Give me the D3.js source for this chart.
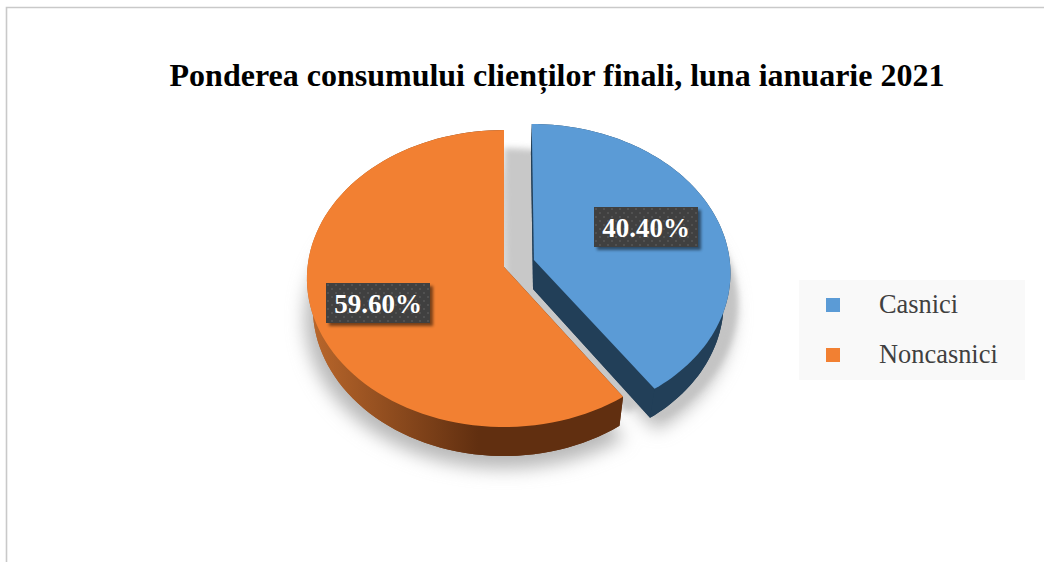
<!DOCTYPE html>
<html><head><meta charset="utf-8">
<style>html,body{margin:0;padding:0;background:#fff;overflow:hidden}svg{display:block}</style>
<script src="https://cdn.jsdelivr.net/npm/d3@7/dist/d3.min.js"></script>
</head><body><svg id="c" width="1044" height="562"></svg>
<script>
const titleText = "Ponderea consumului clienților finali, luna ianuarie 2021";
const categories = ["Casnici", "Noncasnici"];
const shares = [40.40, 59.60];
const topColors = ["#5b9bd6", "#f28032"];

const FONT = '"Liberation Serif","Times New Roman",serif';
const cx = 504, cy = 267, R = 196.5, S = 147.6, K = 0.0775, EXPL = 0.16;
const DEPTH = 29, SIDE_SCALE = 0.97;

const svg = d3.select("#c");
const defs = svg.append("defs");
const blur = (id, d) => defs.append("filter").attr("id", id)
  .attr("x", "-20%").attr("y", "-20%").attr("width", "140%").attr("height", "140%")
  .append("feGaussianBlur").attr("stdDeviation", d);
blur("softShadow", 9);
blur("gapShadow", 3);
blur("labelShadow", 1.6);

const sideGrad = defs.append("linearGradient").attr("id", "orangeSide")
  .attr("gradientUnits", "userSpaceOnUse").attr("x1", 313).attr("x2", 478).attr("y1", 0).attr("y2", 0);
sideGrad.append("stop").attr("offset", 0).attr("stop-color", "#b8662b");
sideGrad.append("stop").attr("offset", 1).attr("stop-color", "#612f10");

const dots = defs.append("pattern").attr("id", "dots").attr("patternUnits", "userSpaceOnUse")
  .attr("width", 8).attr("height", 8);
dots.append("rect").attr("width", 8).attr("height", 8).attr("fill", "#404040");
dots.append("circle").attr("cx", 2).attr("cy", 2).attr("r", 1).attr("fill", "#565656");
dots.append("circle").attr("cx", 6).attr("cy", 6).attr("r", 1).attr("fill", "#565656");

// frame: only top and left edges are in the picture
svg.append("path").attr("d", "M1044,7.5H6.5V562").attr("fill", "none")
  .attr("stroke", "#c9c9c9").attr("stroke-width", 1.6);

svg.append("text").attr("x", 557).attr("y", 86).attr("text-anchor", "middle")
  .attr("font-family", FONT).attr("font-weight", "bold").attr("font-size", 32)
  .attr("fill", "#000").text(titleText);

const arcs = d3.pie().sort(null)(shares);

// disc coordinates -> screen, with a mild perspective
function project(X, Y) {
  const w = 1 - K * Y;
  return [R * X / w, S * Y / w];
}
const toTop = p => [cx + p[0], cy + p[1]];
const toLow = p => [cx + p[0] * SIDE_SCALE, cy + p[1] + DEPTH];
function offsetOf(a) {
  const mid = (a.startAngle + a.endAngle) / 2;
  return a.index === 0 ? [EXPL * Math.sin(mid), -EXPL * Math.cos(mid)] : [0, 0];
}
function rim(a) {
  const o = offsetOf(a), n = 90, out = [];
  for (let i = 0; i <= n; i++) {
    const t = a.startAngle + (a.endAngle - a.startAngle) * i / n;
    out.push(project(o[0] + Math.sin(t), o[1] - Math.cos(t)));
  }
  return out;
}
const apex = a => { const o = offsetOf(a); return project(o[0], o[1]); };
const line = d3.line();
const closed = pts => line(pts) + "Z";

const slices = arcs.map(a => ({ a, rim: rim(a), apex: apex(a) }));

// soft shadows beneath the whole pie
const shadowG = svg.append("g").attr("filter", "url(#softShadow)");
slices.forEach(s => {
  const grow = p => [cx + p[0] * 1.01, cy + p[1] * 1.01 + DEPTH + 11];
  shadowG.append("path").attr("d", closed([s.apex, ...s.rim].map(grow))).attr("fill", "#b8b8b8");
});
// the sharper grey visible in the gap between the slices
const gapG = svg.append("g");
const gapArc = slices[0];
gapG.append("path").attr("d", closed([gapArc.apex, ...gapArc.rim].map(p => [cx + p[0] - 28, cy + p[1] + 24])))
  .attr("fill", "#c8c8c8").attr("filter", "url(#gapShadow)");
gapG.append("path").attr("d", closed([gapArc.apex, ...gapArc.rim].map(p => [cx + p[0] + 7, cy + p[1] + 30])))
  .attr("fill", "#c4c4c4").attr("filter", "url(#gapShadow)");

// extruded walls and lids
const sideFill = ["#223f58", "url(#orangeSide)"];
[1, 0].forEach(i => {
  const s = slices[i];
  const g = svg.append("g");
  g.append("path").attr("d", closed([s.apex, ...s.rim].map(toLow))).attr("fill", sideFill[i]);
  g.append("path").attr("d", closed([...s.rim.map(toTop), ...s.rim.slice().reverse().map(toLow)])).attr("fill", sideFill[i]);
  const first = s.rim[0], last = s.rim[s.rim.length - 1];
  g.append("path").attr("d", closed([toTop(s.apex), toTop(first), toLow(first), toLow(s.apex)])).attr("fill", sideFill[i]);
  g.append("path").attr("d", closed([toTop(s.apex), toTop(last), toLow(last), toLow(s.apex)])).attr("fill", sideFill[i]);
  g.append("path").attr("d", closed([s.apex, ...s.rim].map(toTop))).attr("fill", topColors[i]);
});

// data labels
const labelAnchors = [[646, 227], [378, 303]];
const fmt = d3.format(".2f");
slices.forEach((s, i) => {
  const g = svg.append("g").attr("transform", `translate(${labelAnchors[i]})`);
  g.append("rect").attr("x", -49).attr("y", -17).attr("width", 104).attr("height", 40)
    .attr("fill", "#000").attr("opacity", .5).attr("filter", "url(#labelShadow)");
  g.append("rect").attr("x", -52).attr("y", -20).attr("width", 104).attr("height", 40).attr("fill", "url(#dots)");
  g.append("text").attr("x", 0).attr("y", 9.5).attr("text-anchor", "middle")
    .attr("font-family", FONT).attr("font-weight", "bold").attr("font-size", 27)
    .attr("fill", "#fff").text(fmt(s.a.data) + "%");
});

// legend
svg.append("rect").attr("x", 799).attr("y", 280).attr("width", 226).attr("height", 100).attr("fill", "#f9f9f9");
const rowY = d3.scalePoint().domain(categories).range([305, 355]);
const rows = svg.selectAll("g.row").data(categories).join("g").attr("class", "row")
  .attr("transform", d => `translate(0,${rowY(d)})`);
rows.append("rect").attr("x", 826).attr("y", -7).attr("width", 14).attr("height", 14)
  .attr("fill", (d, i) => topColors[i]);
rows.append("text").attr("x", 879).attr("y", 8).attr("font-family", FONT).attr("font-size", 26.4)
  .attr("fill", "#404040").text(d => d);
</script></body></html>
